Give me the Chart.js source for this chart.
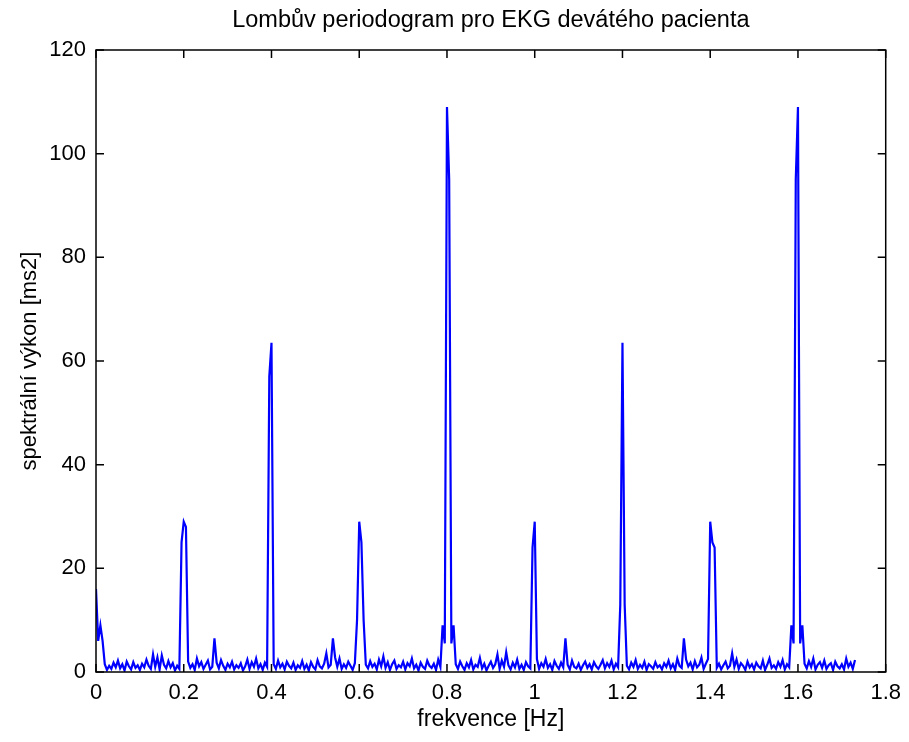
<!DOCTYPE html>
<html lang="cs">

<head>
    <meta charset="UTF-8">
    <title>Lombův periodogram</title>
    <script src="https://cdn.jsdelivr.net/npm/chart.js"></script>
    <style>
        body {
            margin: 0;
            background: #fff;
        }
    </style>
</head>

<body>
    <canvas id="chart" width="909" height="742"></canvas>

    <script>
        // frequency step of the periodogram [Hz]
        const df = 0.005;

        // spectral power [ms2], one value per frequency bin from 0 Hz
        const power = [
            16, 6, 9, 6, 1.5, 0.4, 1.2, 0.6, 1.8, 0.9,
            2.2, 0.7, 1.5, 0.3, 2.0, 1.1, 0.5, 1.9, 0.8, 1.3,
            0.4, 1.6, 0.9, 2.4, 1.2, 0.6, 3.4, 1.0, 2.8, 0.5,
            3.2, 1.4, 0.7, 2.1, 0.9, 1.7, 0.3, 1.2, 0.6, 25,
            29, 28, 2.0, 0.8, 1.5, 0.4, 2.6, 1.1, 1.9, 0.6,
            1.4, 2.2, 0.5, 1.0, 6.5, 1.8, 0.7, 2.3, 1.2, 0.4,
            1.6, 0.9, 2.0, 0.5, 1.3, 0.8, 1.7, 0.3, 1.1, 2.4,
            0.6, 1.9, 1.0, 2.6, 0.7, 1.5, 0.4, 1.8, 1.0, 57,
            63.5, 1.5, 0.6, 2.2, 0.9, 1.6, 0.5, 2.0, 1.2, 0.7,
            1.8, 0.4, 1.3, 0.8, 2.1, 0.6, 1.4, 0.3, 1.9, 1.0,
            0.5, 2.3, 1.1, 0.7, 1.6, 3.6, 0.9, 1.4, 6.5, 2.8,
            1.0, 2.6, 0.6, 1.5, 0.8, 2.0, 1.2, 0.4, 1.7, 10,
            29, 25, 10, 1.4, 0.7, 2.1, 1.0, 1.6, 0.5, 2.4,
            1.1, 3.0, 0.8, 1.9, 0.4, 1.5, 2.2, 0.6, 1.3, 0.9,
            2.0, 0.5, 1.7, 1.1, 2.6, 0.7, 1.4, 0.3, 1.8, 1.0,
            0.6, 2.2, 1.2, 0.8, 1.6, 0.4, 2.4, 1.0, 9, 5.5,
            109, 95, 5.5, 9, 1.5, 0.6, 2.0, 1.1, 0.4, 1.7,
            0.9, 2.3, 0.5, 1.4, 1.0, 2.7, 0.7, 1.6, 0.3, 1.2,
            2.0, 0.8, 1.5, 3.4, 0.6, 2.2, 1.0, 3.8, 1.3, 0.5,
            1.8, 0.9, 2.4, 0.6, 1.4, 0.4, 1.9, 1.1, 0.7, 24,
            29, 2.5, 0.6, 1.7, 1.0, 2.5, 0.8, 1.5, 0.4, 2.1,
            1.2, 0.6, 1.8, 0.9, 6.5, 1.4, 0.5, 2.2, 1.0, 0.7,
            1.6, 0.4, 1.3, 2.0, 0.8, 1.5, 0.5, 1.9, 1.1, 0.6,
            1.4, 2.3, 0.7, 1.7, 1.0, 2.2, 0.5, 1.6, 0.9, 13,
            63.5, 13, 1.2, 0.5, 1.8, 1.0, 2.3, 0.6, 1.4, 0.8,
            2.0, 0.4, 1.5, 1.1, 0.6, 1.9, 0.9, 1.3, 0.5, 1.7,
            1.0, 2.2, 0.7, 1.5, 0.4, 2.6, 1.2, 0.8, 6.5, 2.4,
            1.1, 1.8, 0.5, 2.1, 0.9, 1.4, 2.8, 0.6, 1.6, 2.5,
            29, 25, 24, 0.8, 1.6, 0.5, 1.3, 2.0, 0.7, 1.2,
            3.6, 1.0, 2.4, 0.6, 1.7, 1.2, 0.4, 2.0, 0.9, 1.5,
            0.5, 1.8, 1.1, 0.7, 2.2, 0.4, 1.4, 2.6, 0.8, 1.3,
            0.6, 1.9, 1.0, 2.3, 0.5, 1.5, 0.9, 9, 5.5, 95,
            109, 5.5, 9, 1.6, 0.7, 2.1, 1.0, 2.6, 0.5, 1.4,
            1.9, 0.8, 2.2, 0.6, 1.3, 1.7, 0.4, 2.0, 1.1, 0.7,
            1.5, 0.5, 2.6, 1.0, 1.8, 0.6, 2.3
        ];

        const xTicks = [0, 0.2, 0.4, 0.6, 0.8, 1, 1.2, 1.4, 1.6, 1.8];
        const yTicks = [0, 20, 40, 60, 80, 100, 120];

        const titleText = 'Lombův periodogram pro EKG devátého pacienta';
        const fontFamily = '"Liberation Sans", Arial, sans-serif';
        const fontSize = 22;

        const points = power.map((p, i) => ({ x: i * df, y: p }));

        // MATLAB-like box with inward ticks on all four sides, title centred over the axes
        const boxPlugin = {
            id: 'box',
            afterDatasetsDraw(chart) {
                const { ctx, chartArea: a, scales } = chart;
                const len = 8;
                ctx.save();
                ctx.strokeStyle = '#000';
                ctx.lineWidth = 1.5;
                ctx.strokeRect(a.left, a.top, a.right - a.left, a.bottom - a.top);
                ctx.beginPath();
                xTicks.forEach(v => {
                    const px = scales.x.getPixelForValue(v);
                    ctx.moveTo(px, a.bottom); ctx.lineTo(px, a.bottom - len);
                    ctx.moveTo(px, a.top); ctx.lineTo(px, a.top + len);
                });
                yTicks.forEach(v => {
                    const py = scales.y.getPixelForValue(v);
                    ctx.moveTo(a.left, py); ctx.lineTo(a.left + len, py);
                    ctx.moveTo(a.right, py); ctx.lineTo(a.right - len, py);
                });
                ctx.stroke();

                ctx.fillStyle = '#000';
                ctx.font = '23.5px ' + fontFamily;
                ctx.textAlign = 'center';
                ctx.textBaseline = 'middle';
                ctx.fillText(titleText, (a.left + a.right) / 2, 21);
                ctx.restore();
            }
        };

        new Chart(document.getElementById('chart'), {
            type: 'line',
            data: {
                datasets: [{
                    data: points,
                    borderColor: '#0000ff',
                    borderWidth: 2.2,
                    pointRadius: 0,
                    tension: 0,
                    fill: false
                }]
            },
            options: {
                responsive: false,
                animation: false,
                layout: { padding: { top: 50, right: 21 } },
                plugins: {
                    legend: { display: false },
                    tooltip: { enabled: false },
                    title: { display: false }
                },
                scales: {
                    x: {
                        type: 'linear',
                        min: 0,
                        max: 1.8,
                        afterBuildTicks: s => { s.ticks = xTicks.map(v => ({ value: v })); },
                        afterFit: s => { s.height = 70; },
                        grid: { display: false, drawTicks: false },
                        border: { display: false },
                        ticks: {
                            color: '#000',
                            padding: 8,
                            maxRotation: 0,
                            font: { family: fontFamily, size: fontSize },
                            callback: v => String(Math.round(v * 10) / 10)
                        },
                        title: {
                            display: true,
                            text: 'frekvence [Hz]',
                            color: '#000',
                            font: { family: fontFamily, size: 23 },
                            padding: { top: 0, bottom: 9 }
                        }
                    },
                    y: {
                        min: 0,
                        max: 120,
                        afterBuildTicks: s => { s.ticks = yTicks.map(v => ({ value: v })); },
                        afterFit: s => { s.width = 96; },
                        grid: { display: false, drawTicks: false },
                        border: { display: false },
                        ticks: {
                            color: '#000',
                            padding: 10,
                            font: { family: fontFamily, size: fontSize }
                        },
                        title: {
                            display: true,
                            text: 'spektrální výkon [ms2]',
                            color: '#000',
                            font: { family: fontFamily, size: fontSize },
                            padding: { top: 17, bottom: 0 }
                        }
                    }
                }
            },
            plugins: [boxPlugin]
        });
    </script>
</body>

</html>
